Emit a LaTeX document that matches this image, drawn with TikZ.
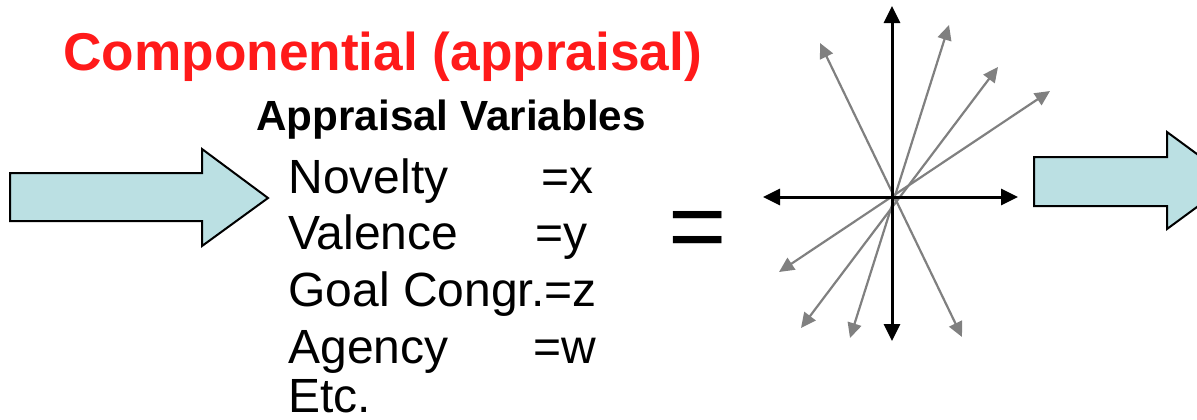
\documentclass[tikz,border=0pt]{standalone}
\usepackage{fontspec}
\setmainfont{Liberation Sans}
\usetikzlibrary{arrows.meta,positioning,calc}
\definecolor{arrowfill}{RGB}{187,224,227}
\definecolor{titlered}{RGB}{255,26,26}
\definecolor{axisgray}{RGB}{128,128,128}

\begin{document}
\begin{tikzpicture}[x=0.5pt,y=-0.5pt,
    blockarrow/.style={draw=black,line width=1pt,fill=arrowfill,line join=miter},
    txt/.style={anchor=base west,inner sep=0pt},
    mainaxis/.style={{Triangle[length=8.5pt,width=8pt]}-{Triangle[length=8.5pt,width=8pt]},line width=1.5pt,black},
    compaxis/.style={{Triangle[length=7.5pt,width=7pt]}-{Triangle[length=7.5pt,width=7pt]},line width=1.1pt,axisgray}]
    \useasboundingbox (0,0) rectangle (1197,419);

    % title
    \node[txt,text=titlered,font=\fontsize{26.6}{30}\selectfont\bfseries] (title) at (63,70) {Componential (appraisal)};

    % input arrow
    \draw[blockarrow] (10,173) -- (202,173) -- (202,149) -- (268,198)
        -- (202,246) -- (202,221) -- (10,221) -- cycle;

    % appraisal variables
    \node[txt,font=\fontsize{21.1}{24}\selectfont\bfseries] (head) at (256,130) {Appraisal Variables};
    \begin{scope}[font=\fontsize{24}{28}\selectfont]
        \node[txt] (nov) at (288,193) {Novelty};
        \node[txt] (novv) at (541,193) {=x};
        \node[txt] (val) at (288,249) {Valence};
        \node[txt] (valv) at (535,249) {=y};
        \node[txt] (goal) at (288,306) {Goal Congr.=z};
        \node[txt] (agen) at (288,363) {Agency};
        \node[txt] (agenv) at (533,363) {=w};
        \node[txt] (etc) at (288,412) {Etc.};
    \end{scope}

    % equals sign
    \node[anchor=base,inner sep=0pt,font=\fontsize{50}{55}\selectfont] (eq) at (698,260) {=};

    % emotion space
    \coordinate (o) at (892,197);
    \coordinate (n) at (892,6);
    \coordinate (s) at (892,341);
    \coordinate (w) at (763,197);
    \coordinate (e) at (1018,197);
    \draw[compaxis] (962,337) -- (820,43);
    \draw[compaxis] (850,338) -- (949,25);
    \draw[compaxis] (801,328) -- (998,67);
    \draw[compaxis] (779,272) -- (1050,91);
    \draw[mainaxis] (s) -- (n);
    \draw[mainaxis] (w) -- (e);

    % output arrow
    \draw[blockarrow] (1034,157) -- (1167,157) -- (1167,132) -- (1233,180.5)
        -- (1167,229) -- (1167,206) -- (1034,206) -- cycle;
\end{tikzpicture}
\end{document}
